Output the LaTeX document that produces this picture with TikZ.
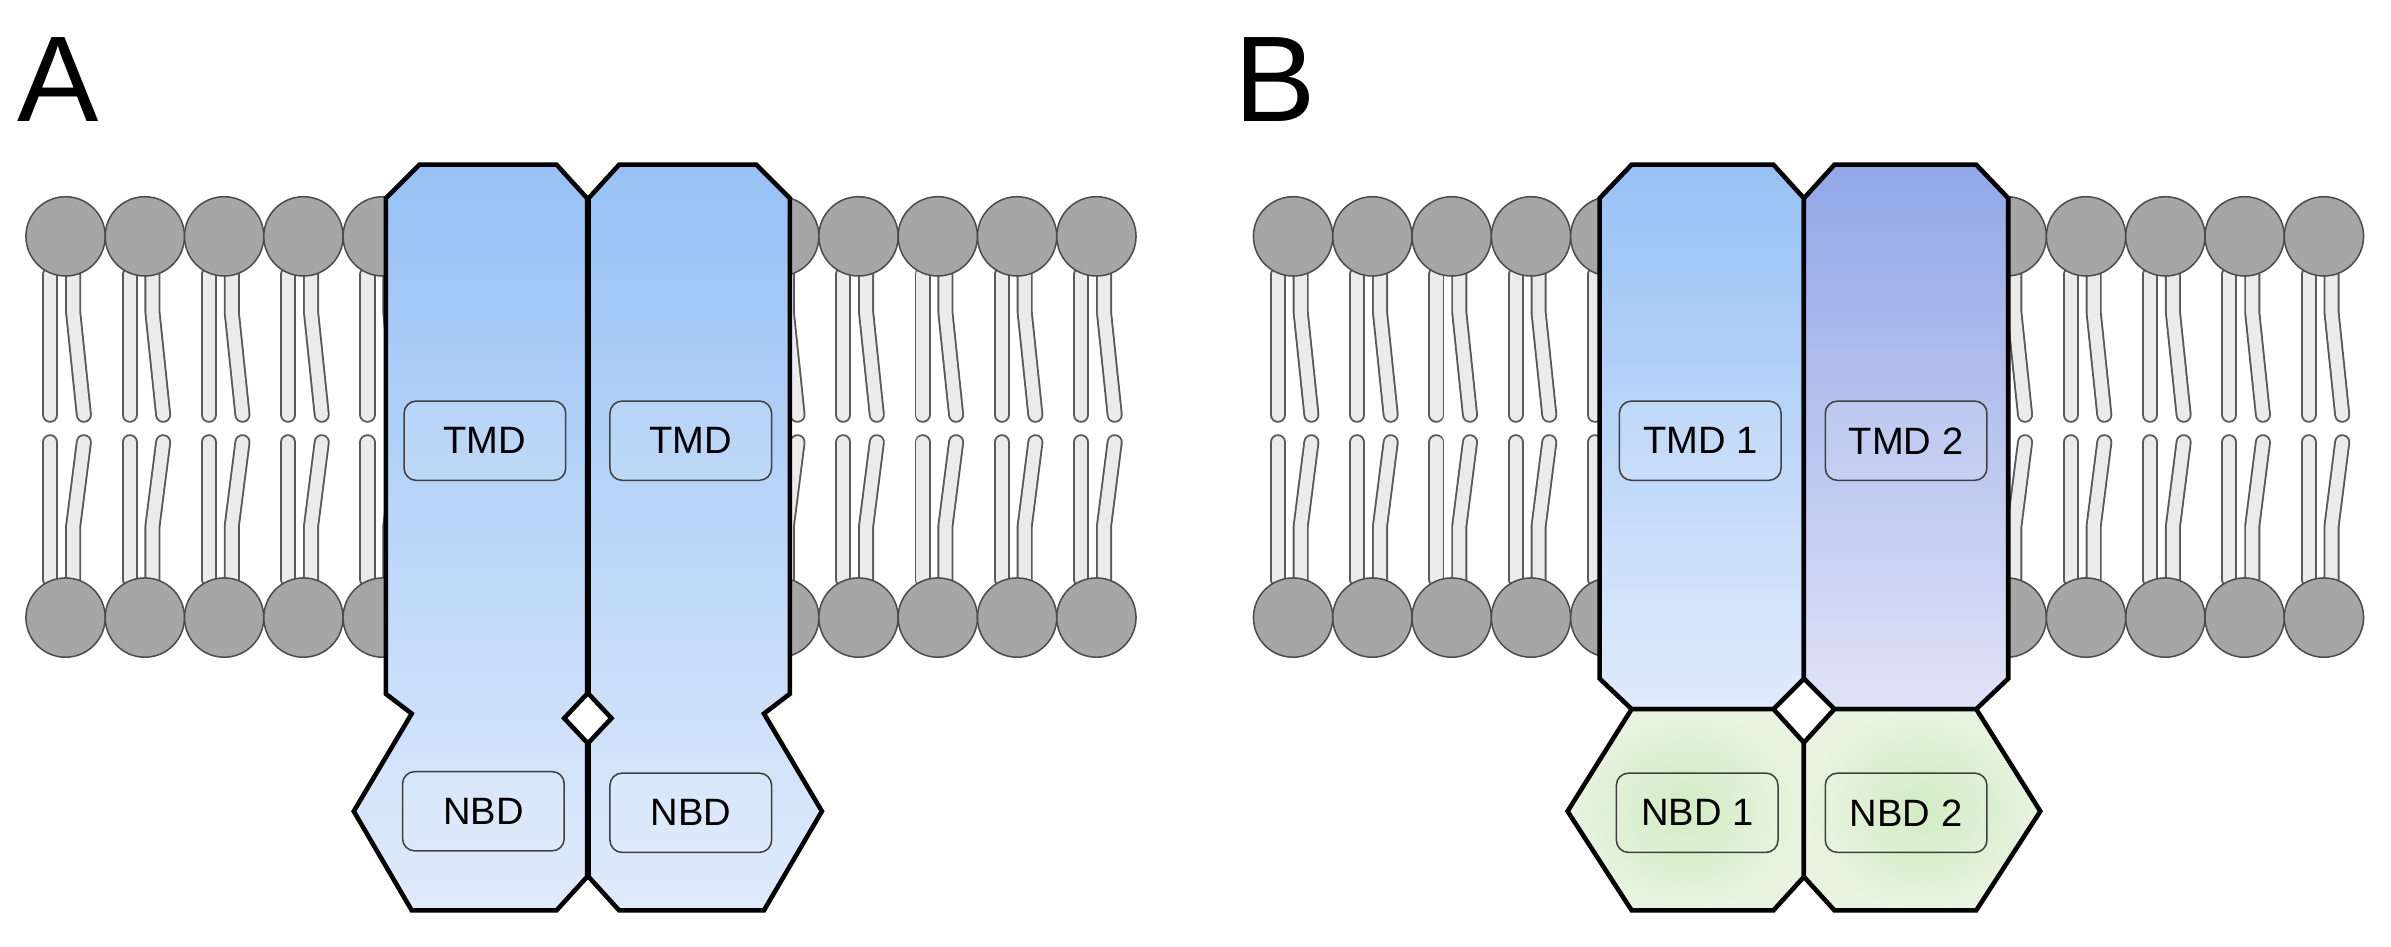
\documentclass[tikz,border=0pt]{standalone}
\usepackage{fontspec}
\setmainfont{Liberation Sans}
\tikzset{
  head/.style={circle,draw=black!70,fill=black!35,line width=1pt,minimum size=52pt,inner sep=0pt},
  tailout/.style={line width=10.5pt,line cap=round,line join=round,black!65},
  tailin/.style={line width=8pt,line cap=round,line join=round,black!8},
  chain/.style={draw=black,line width=3pt,line join=miter},
  dombox/.style={draw=black!75,rounded corners=8pt,line width=1pt,fill=white,fill opacity=0.12,text opacity=1,
    minimum width=106pt,minimum height=52pt,font=\fontsize{25}{27}\selectfont},
  panel/.style={font=\fontsize{80}{80}\selectfont}
}
% one lipid pair (upper and lower leaflet) at x = #1
\newcommand\lipid[1]{%
  \foreach \p in {tailout,tailin}{
    \draw[\p] (#1-10,180) -- (#1-10,272);
    \draw[\p] (#1+5,180) -- (#1+5,205) -- (#1+12,272);
    \draw[\p] (#1-10,290) -- (#1-10,380);
    \draw[\p] (#1+12,290) -- (#1+5,345) -- (#1+5,380);
  }
  \node[head] at (#1,155) {};
  \node[head] at (#1,405) {};
}
\definecolor{tmdtop}{HTML}{97C1F5}
\definecolor{tmdbot}{HTML}{E0EBFB}
\definecolor{tmdtwotop}{HTML}{92A7E8}
\definecolor{tmdtwobot}{HTML}{E0E3F6}
\definecolor{nbdin}{HTML}{CDE9BC}
\definecolor{nbdout}{HTML}{E8F4E0}
\begin{document}
\begin{tikzpicture}[x=1pt,y=-1pt]
  \useasboundingbox (0,0) rectangle (1568,621);

  % -- panel letters --
  \node[panel] (lblA) at (38,52) {A};
  \node[panel] (lblB) at (836,52) {B};

  % -- membrane, panel A --
  \foreach \x in {43,95,147,199,251,511,563,615,667,719} {\lipid{\x}}
  % -- membrane, panel B --
  \foreach \x in {848,900,952,1004,1056,1316,1368,1420,1472,1524} {\lipid{\x}}

  % -- panel A: two identical half transporters --
  \shade[chain,top color=tmdtop,bottom color=tmdbot]
    (275,108) -- (365,108) -- (385,130) -- (385,455) -- (370,471) -- (385,487) -- (385,575)
    -- (365,597) -- (270,597) -- (232,532) -- (270,468) -- (253,455) -- (253,130) -- cycle;
  \shade[chain,top color=tmdtop,bottom color=tmdbot]
    (496,108) -- (406,108) -- (386,130) -- (386,455) -- (401,471) -- (386,487) -- (386,575)
    -- (406,597) -- (501,597) -- (539,532) -- (501,468) -- (518,455) -- (518,130) -- cycle;
  \node[dombox] (tmdA1) at (318,289) {TMD};
  \node[dombox] (tmdA2) at (453,289) {TMD};
  \node[dombox] (nbdA1) at (317,532) {NBD};
  \node[dombox] (nbdA2) at (453,533) {NBD};

  % -- panel B: TMDs --
  \shade[chain,top color=tmdtop,bottom color=tmdbot]
    (1070,108) -- (1163,108) -- (1183,130) -- (1183,445) -- (1163,465) -- (1070,465)
    -- (1049,445) -- (1049,130) -- cycle;
  \shade[chain,top color=tmdtwotop,bottom color=tmdtwobot]
    (1296,108) -- (1203,108) -- (1183,130) -- (1183,445) -- (1203,465) -- (1296,465)
    -- (1317,445) -- (1317,130) -- cycle;
  % -- panel B: NBDs --
  \shade[chain,inner color=nbdin,outer color=nbdout]
    (1070,465) -- (1163,465) -- (1183,487) -- (1183,575) -- (1163,597) -- (1070,597)
    -- (1028,532) -- cycle;
  \shade[chain,inner color=nbdin,outer color=nbdout]
    (1296,465) -- (1203,465) -- (1183,487) -- (1183,575) -- (1203,597) -- (1296,597)
    -- (1338,532) -- cycle;
  \node[dombox] (tmdB1) at (1115,289) {TMD 1};
  \node[dombox] (tmdB2) at (1250,289) {TMD 2};
  \node[dombox] (nbdB1) at (1113,533) {NBD 1};
  \node[dombox] (nbdB2) at (1250,533) {NBD 2};
\end{tikzpicture}
\end{document}
